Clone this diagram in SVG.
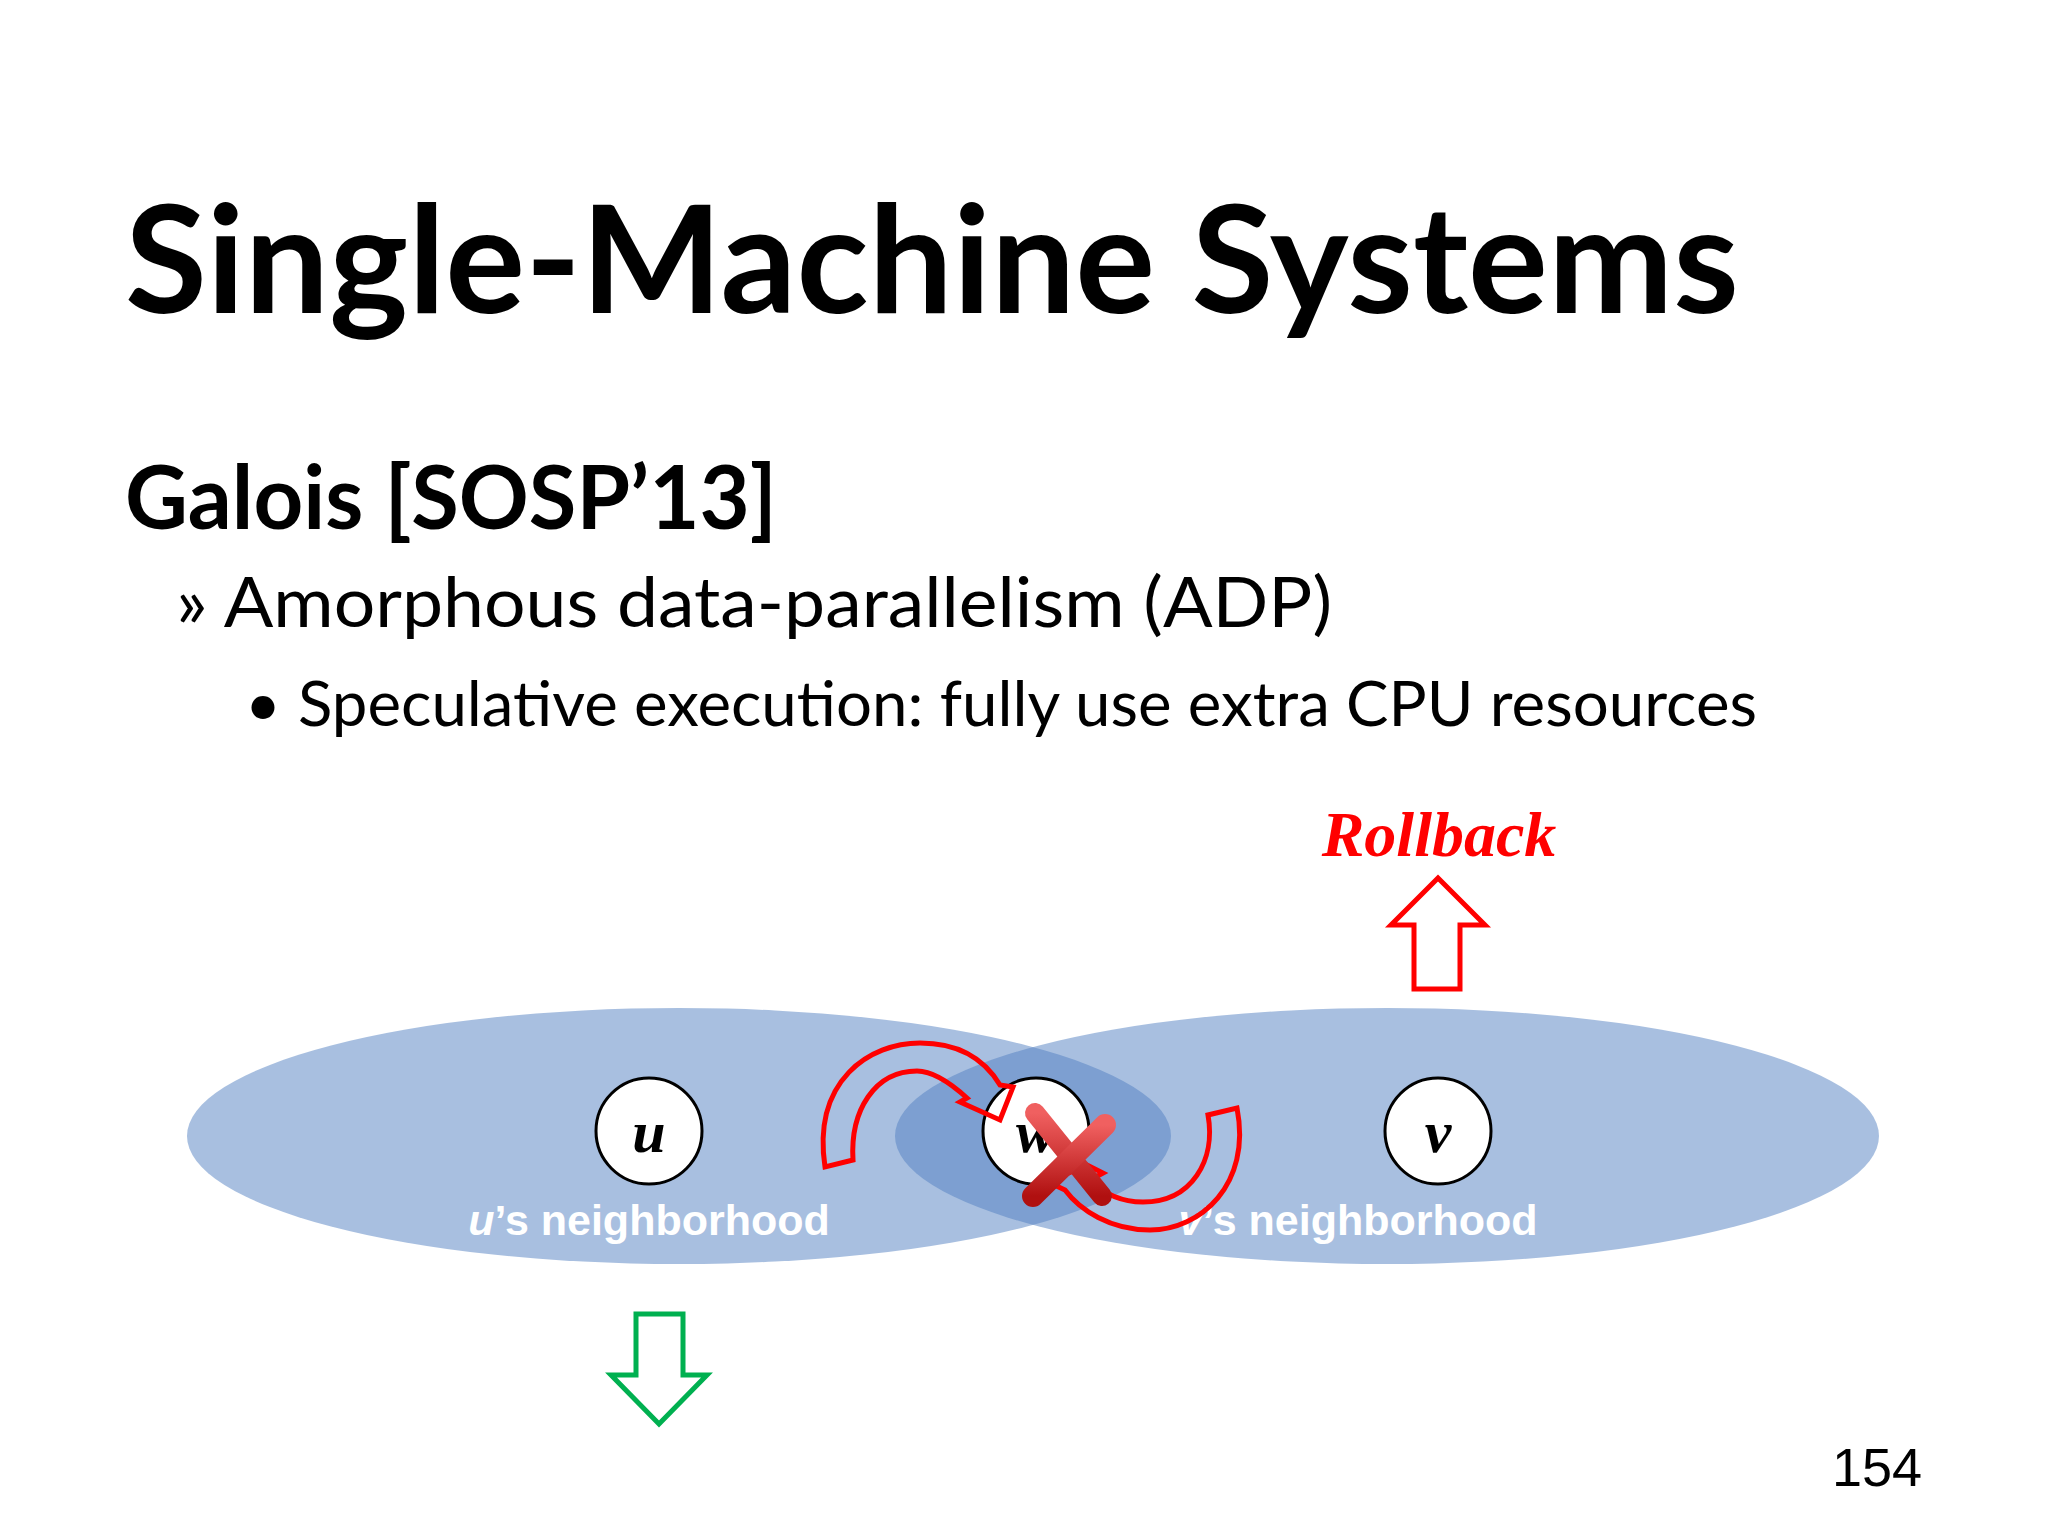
<svg xmlns="http://www.w3.org/2000/svg" width="2048" height="1536" viewBox="0 0 2048 1536">
<defs>
<style>
.t{font-family:Lato,"Open Sans","Liberation Sans",sans-serif;fill:#000}
.hood{fill:#517fc1;fill-opacity:0.5}
.node circle{fill:#fff;stroke:#000;stroke-width:3}
.node text{font-family:"Liberation Serif",serif;font-style:italic;font-weight:bold;font-size:60px;text-anchor:middle}
.lbl{font-family:"Liberation Sans",Arial,sans-serif;font-weight:bold;font-size:43px;fill:#fff;text-anchor:middle}
.red{fill:none;stroke:#f00;stroke-width:5;stroke-linejoin:miter}
</style>
<linearGradient id="xg" x1="0" y1="0" x2="0" y2="1"><stop offset="0" stop-color="#f06060"/><stop offset="1" stop-color="#b01010"/></linearGradient>
</defs>
<rect width="2048" height="1536" fill="#fff"/>
<text class="t" x="125" y="313" font-size="150" font-weight="bold" textLength="1614" lengthAdjust="spacingAndGlyphs">Single-Machine Systems</text>
<text class="t" x="125" y="529" font-size="88" font-weight="bold" textLength="652" lengthAdjust="spacingAndGlyphs">Galois [SOSP’13]</text>
<text class="t" x="176" y="627" font-size="70" textLength="1156" lengthAdjust="spacingAndGlyphs">» Amorphous data-parallelism (ADP)</text>
<text class="t" x="245" y="726" font-size="62">•</text>
<text class="t" x="298" y="726" font-size="62" textLength="1459" lengthAdjust="spacingAndGlyphs">Speculative execution: fully use extra CPU resources</text>
<g id="hoods">
<ellipse class="hood" cx="679" cy="1136" rx="492" ry="128"/>
<ellipse class="hood" cx="1387" cy="1136" rx="492" ry="128"/>
<text class="lbl" x="649" y="1235"><tspan font-style="italic">u</tspan>’s neighborhood</text>
<text class="lbl" x="1358" y="1235"><tspan font-style="italic">v</tspan>’s neighborhood</text>
</g>
<g id="node-u" class="node"><circle cx="649" cy="1131" r="53"/><text x="649" y="1152">u</text></g>
<g id="node-w" class="node"><circle cx="1036" cy="1131" r="53"/><text x="1036" y="1152">w</text></g>
<g id="node-v" class="node"><circle cx="1438" cy="1131" r="53"/><text x="1438" y="1152">v</text></g>
<g id="connectors">
<path class="red" d="M825,1167 C812,1080 870,1043 920,1043 C960,1043 985,1060 1000,1085 L1013,1087 L1000,1120 L960,1102 L967,1098 C945,1078 930,1071 917,1071 C875,1071 850,1110 853,1160 Z"/>
<path class="red" d="M1237,1108 C1252,1185 1200,1230 1150,1230 C1110,1230 1080,1210 1065,1190 L1048,1182 L1087,1165 L1103,1173 L1090,1180 C1108,1198 1128,1202 1143,1202 C1192,1202 1216,1160 1208,1115 Z"/>
</g>
<g id="x-mark">
<line x1="1035" y1="1113" x2="1102" y2="1196" stroke="url(#xg)" stroke-width="20" stroke-linecap="round"/>
<line x1="1105" y1="1125" x2="1033" y2="1196" stroke="url(#xg)" stroke-width="22" stroke-linecap="round"/>
</g>
<g id="rollback">
<text x="1439" y="856" font-family="Liberation Serif,serif" font-style="italic" font-weight="bold" font-size="64" fill="#f00" text-anchor="middle">Rollback</text>
<path class="red" d="M1414,989 L1414,925 L1391,925 L1438,878 L1485,925 L1460,925 L1460,989 Z"/>
</g>
<g id="commit">
<path fill="none" stroke="#00b050" stroke-width="5" d="M636,1314 L683,1314 L683,1375 L707,1375 L659,1424 L611,1375 L636,1375 Z"/>
</g>
<text x="1922" y="1486" font-family="Liberation Sans,Arial,sans-serif" font-size="54" text-anchor="end">154</text>
</svg>
